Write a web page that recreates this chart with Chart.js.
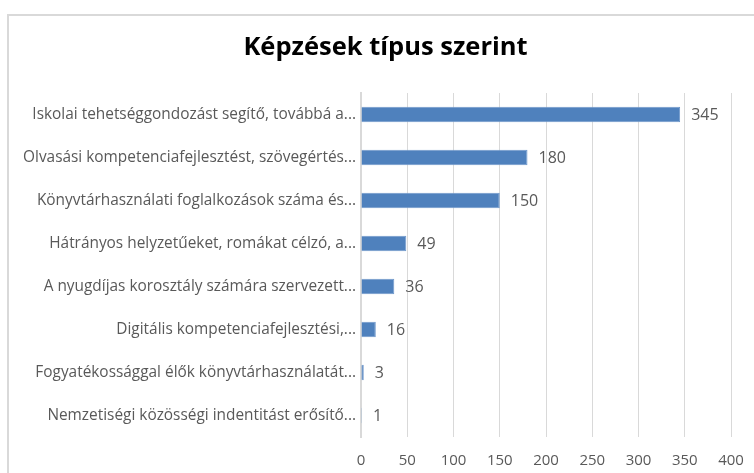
<!DOCTYPE html>
<html>
<head>
<meta charset="utf-8">
<script src="https://cdn.jsdelivr.net/npm/chart.js@4"></script>
<style>
  html, body { margin: 0; padding: 0; background: #fff; overflow: hidden; }
  #wrap { position: relative; width: 754px; height: 473px; }
  #frame { position: absolute; left: 7px; top: 14px; width: 800px; height: 500px;
           border-left: 2px solid #d9d9d9; border-top: 2px solid #d9d9d9; box-sizing: border-box; }
  canvas { position: absolute; left: 0; top: 0; }
</style>
</head>
<body>
<div id="wrap">
  <div id="frame"></div>
  <canvas id="c" width="754" height="473"></canvas>
</div>
<script>
const title = 'Képzések típus szerint';
const categories = [
  'Iskolai tehetséggondozást segítő, továbbá a...',
  'Olvasási kompetenciafejlesztést, szövegértés...',
  'Könyvtárhasználati foglalkozások száma és...',
  'Hátrányos helyzetűeket, romákat célzó, a...',
  'A nyugdíjas korosztály számára szervezett...',
  'Digitális kompetenciafejlesztési,...',
  'Fogyatékossággal élők könyvtárhasználatát...',
  'Nemzetiségi közösségi indentitást erősítő...'
];
const values = [345, 180, 150, 49, 36, 16, 3, 1];
const xTicks = [0, 50, 100, 150, 200, 250, 300, 350, 400];

const gray = '#595959';

const valueLabels = {
  id: 'valueLabels',
  afterDatasetsDraw(chart) {
    const ctx = chart.ctx;
    const meta = chart.getDatasetMeta(0);
    ctx.save();
    ctx.font = '16px "Open Sans"';
    ctx.fillStyle = gray;
    ctx.textAlign = 'left';
    ctx.textBaseline = 'middle';
    meta.data.forEach((bar, i) => {
      ctx.fillText(String(chart.data.datasets[0].data[i]), bar.x + 11, bar.y + 1);
    });
    ctx.restore();
  }
};

const titleDraw = {
  id: 'titleDraw',
  afterDraw(chart) {
    const ctx = chart.ctx;
    ctx.save();
    ctx.font = 'bold 25.5px "Open Sans"';
    ctx.fillStyle = '#000';
    ctx.textAlign = 'center';
    ctx.textBaseline = 'middle';
    ctx.fillText(title, 385.5, 48);
    ctx.restore();
  }
};

new Chart(document.getElementById('c'), {
  type: 'bar',
  data: {
    labels: categories,
    datasets: [{
      data: values,
      backgroundColor: '#4f81bd',
      borderColor: '#6f98cc',
      borderWidth: 1,
      categoryPercentage: 1,
      barPercentage: 0.36
    }]
  },
  options: {
    indexAxis: 'y',
    responsive: false,
    animation: false,
    layout: { padding: { left: 0, right: 23, top: 93, bottom: 0 } },
    plugins: {
      legend: { display: false },
      tooltip: { enabled: false },
      title: { display: false }
    },
    scales: {
      x: {
        min: 0, max: 400,
        afterBuildTicks(scale) { scale.ticks = xTicks.map(v => ({ value: v })); },
        afterFit(scale) { scale.height = 36; scale.paddingRight = 0; scale.paddingLeft = 0; },
        grid: { color: '#d9d9d9', lineWidth: 1, drawTicks: false },
        border: { display: false },
        ticks: { color: gray, font: { family: 'Open Sans', size: 15 }, padding: 15 }
      },
      y: {
        afterFit(scale) { scale.width = 361; },
        grid: { display: false, drawTicks: false },
        border: { display: true, color: '#d9d9d9', width: 2 },
        ticks: { color: gray, font: { family: 'Open Sans', size: 15.4 }, padding: 5 }
      }
    }
  },
  plugins: [valueLabels, titleDraw]
});
</script>
</body>
</html>
